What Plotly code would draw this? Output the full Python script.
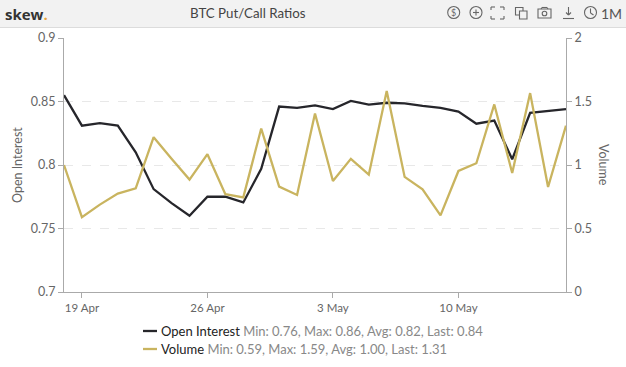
import plotly.graph_objects as go
import pandas as pd

dates = pd.date_range("2020-04-18", "2020-05-16", freq="D")
open_interest = [0.855, 0.831, 0.833, 0.831, 0.81, 0.781, 0.77, 0.76, 0.775, 0.775, 0.7705, 0.797, 0.846, 0.845, 0.847,
                 0.844, 0.8505, 0.8475, 0.849, 0.8485, 0.8465, 0.845, 0.842, 0.8325, 0.835, 0.8045, 0.841, 0.8425, 0.844]
volume = [1.0, 0.59, 0.688, 0.775, 0.816, 1.219, 1.05, 0.885, 1.085, 0.77, 0.745, 1.287, 0.83, 0.764, 1.406,
          0.874, 1.048, 0.924, 1.582, 0.906, 0.808, 0.603, 0.953, 1.014, 1.477, 0.937, 1.566, 0.827, 1.31]
x_ticks = ["2020-04-19", "2020-04-26", "2020-05-03", "2020-05-10"]
x_labels = ["19 Apr", "26 Apr", "3 May", "10 May"]
oi_ticks = [0.7, 0.75, 0.8, 0.85, 0.9]
oi_labels = ["0.7", "0.75", "0.8", "0.85", "0.9"]
vol_ticks = [0, 0.5, 1, 1.5, 2]
vol_labels = ["0", "0.5", "1", "1.5", "2"]
oi_name = "Open Interest"
vol_name = "Volume"
oi_stats = "Min: 0.76, Max: 0.86, Avg: 0.82, Last: 0.84"
vol_stats = "Min: 0.59, Max: 1.59, Avg: 1.00, Last: 1.31"
OI_COLOR = "#26262b"
VOL_COLOR = "#c9b45f"

FONT = "Lato"
L, R, T, B = 64, 566, 38, 292
W, H = 626, 367
def px(x): return (x - L) / (R - L)
def py(y): return (B - y) / (B - T)

fig = go.Figure()
fig.add_trace(go.Scatter(x=dates, y=open_interest, mode="lines", name=oi_name,
                         line=dict(color=OI_COLOR, width=2.3), yaxis="y"))
fig.add_trace(go.Scatter(x=dates, y=volume, mode="lines", name=vol_name,
                         line=dict(color=VOL_COLOR, width=2.3), yaxis="y2"))

ICON = dict(color="#666", width=1.1)
def line(x0, y0, x1, y1, **kw):
    return dict(type="line", xref="paper", yref="paper", x0=px(x0), x1=px(x1), y0=py(y0), y1=py(y1), line=kw or ICON)
def rect(x0, y0, x1, y1, fill="rgba(0,0,0,0)"):
    return dict(type="rect", xref="paper", yref="paper", x0=px(x0), x1=px(x1), y0=py(y0), y1=py(y1), line=ICON, fillcolor=fill)
def circle(cx, cy, r):
    return dict(type="circle", xref="paper", yref="paper", x0=px(cx - r), x1=px(cx + r), y0=py(cy - r), y1=py(cy + r), line=ICON)

shapes = [
    dict(type="rect", xref="paper", yref="paper", x0=px(0), x1=px(W), y0=py(0), y1=py(27),
         fillcolor="#f2f2f2", line=dict(width=0), layer="below"),
    line(0, 27.5, W, 27.5, color="#dcdcdc", width=1),
    circle(453.7, 12.5, 6),
    circle(476, 12.5, 6),
    line(473, 12.5, 479, 12.5), line(476, 9.5, 476, 15.5),
    line(491, 7, 495, 7), line(491, 7, 491, 10), line(500, 7, 504, 7), line(504, 7, 504, 10),
    line(491, 19, 495, 19), line(491, 16, 491, 19), line(500, 19, 504, 19), line(504, 16, 504, 19),
    rect(515.5, 7.5, 523, 15), rect(519.5, 11, 527, 19, "#f2f2f2"),
    rect(538, 9, 551, 18), circle(544.5, 13.5, 2.3), line(541, 9, 542, 7.5), line(542, 7.5, 547, 7.5), line(547, 7.5, 548, 9),
    line(568.5, 7, 568.5, 15), line(566, 12.5, 568.5, 15), line(571, 12.5, 568.5, 15), line(563, 18.5, 574, 18.5),
    circle(590.5, 12.5, 6), line(590.5, 8.5, 590.5, 13), line(590.5, 13, 593.5, 15),
    line(143, 331, 157, 331, color=OI_COLOR, width=2.3),
    line(143, 349, 157, 349, color=VOL_COLOR, width=2.3),
]
def ann(text, x, y, size, color, anchor="left", family=FONT, angle=0):
    return dict(text=text, x=px(x), y=py(y), xanchor=anchor, yanchor="middle", showarrow=False, textangle=angle,
                xref="paper", yref="paper", font=dict(family=family, size=size, color=color))
annotations = [
    ann("<b>skew</b><b style='color:#e8a33d'>.</b>", 3, 14, 15, "#333", family="Open Sans"),
    ann("BTC Put/Call Ratios", 248, 13, 13.3, "#444", anchor="center"),
    ann("$", 453.7, 12.5, 9, "#666", anchor="center"),
    ann("1M", 611, 13.5, 14, "#555", anchor="center"),
    ann("Open Interest", 17, 165, 12.5, "#666", anchor="center", angle=-90),
    ann("Volume", 604, 165, 12.5, "#666", anchor="center", angle=90),
    ann(f"<span style='color:#222'>{oi_name}</span> {oi_stats}", 158.5, 331, 13, "#888"),
    ann(f"<span style='color:#222'>{vol_name}</span> {vol_stats}", 158.5, 349, 13, "#888"),
]

tick_common = dict(ticks="outside", ticklen=5, tickcolor="#aaa", showline=True, linecolor="#aaa", zeroline=False)
fig.update_layout(
    width=W, height=H, autosize=False,
    margin=dict(l=L, r=W - R, t=T, b=H - B),
    paper_bgcolor="white", plot_bgcolor="white",
    font=dict(family=FONT, size=12.5, color="#666"),
    xaxis=dict(type="date", range=[dates[0], dates[-1]], tickvals=x_ticks, ticktext=x_labels, showgrid=False,
               tickfont=dict(size=11.5), **tick_common),
    yaxis=dict(range=[0.7, 0.9], tickvals=oi_ticks, ticktext=oi_labels,
               showgrid=True, gridcolor="#e8e8e8", griddash="dash", **tick_common),
    yaxis2=dict(range=[0, 2], tickvals=vol_ticks, ticktext=vol_labels, overlaying="y", side="right", showgrid=False,
                **tick_common),
    showlegend=False,
    shapes=shapes, annotations=annotations,
)
fig.write_html("out.html", config=dict(displayModeBar=False), post_script="document.body.style.margin='0';")
